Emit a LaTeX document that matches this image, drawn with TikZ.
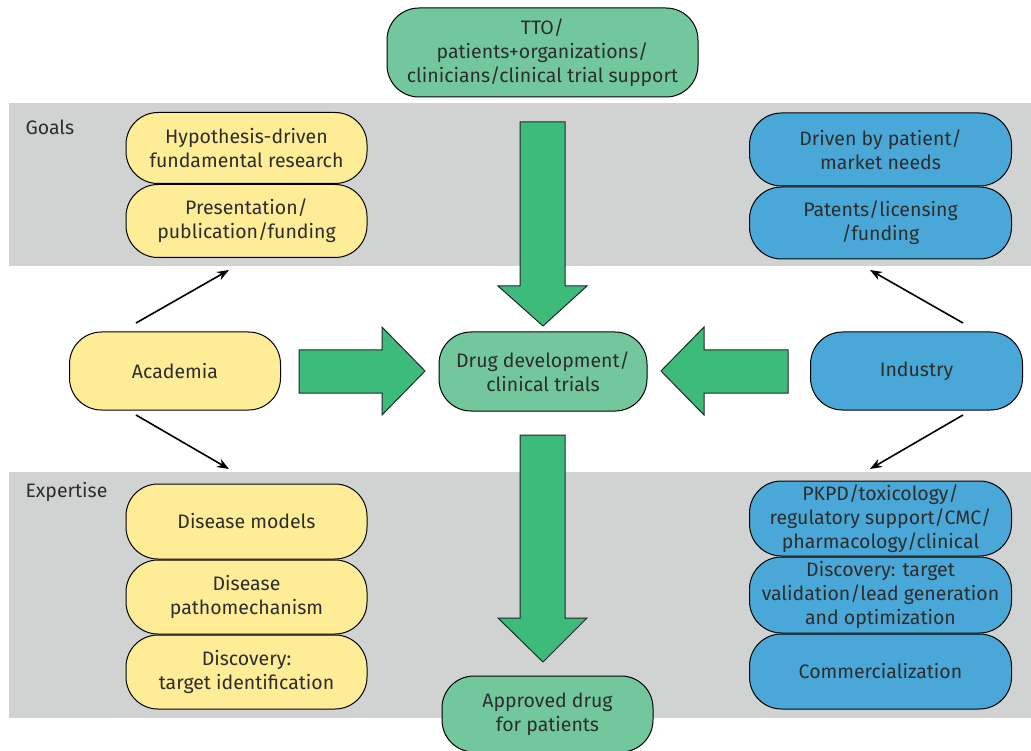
\documentclass[tikz,border=0pt]{standalone}
\usepackage{fontspec}
\setmainfont{Fira Sans}
\usepackage{tikz}
\usetikzlibrary{positioning,arrows.meta}

\definecolor{bandgray}{RGB}{209,211,210}
\definecolor{acadyellow}{RGB}{255,236,150}
\definecolor{indblue}{RGB}{74,168,216}
\definecolor{hubgreen}{RGB}{114,200,156}
\definecolor{arrowgreen}{RGB}{61,187,123}
\definecolor{inkgray}{RGB}{45,45,45}

\tikzset{
	box/.style={draw=black, line width=1pt, rounded corners=32pt, align=center,
		text=inkgray, inner sep=0pt, font=\fontsize{19.5}{24}\selectfont},
	acad/.style={box, fill=acadyellow, minimum width=241pt},
	ind/.style={box, fill=indblue, minimum width=262pt},
	hub/.style={box, fill=hubgreen},
	band/.style={fill=bandgray, draw=none},
	thin/.style={-{Stealth[length=12pt,width=9pt]}, line width=1.6pt},
	fat/.style={fill=arrowgreen, draw=black!85, line width=1pt, line join=miter},
	tag/.style={anchor=west, text=inkgray, font=\fontsize{19.5}{24}\selectfont}
}

\begin{document}
\begin{tikzpicture}[x=1pt,y=-1pt]
	\useasboundingbox (0,0) rectangle (1031,751);
	%
	\fill[band] (9,103) rectangle (1031,266);
	\fill[band] (9,472) rectangle (1031,718);
	\node[tag] (goals) at (22,127) {Goals};
	\node[tag] (expertise) at (22,492) {Expertise};
	%
	% big green arrows
	\draw[fat] (520,122) -- (565,122) -- (565,286) -- (587,286) -- (543,326)
		-- (498,286) -- (520,286) -- cycle;
	\draw[fat] (520,435) -- (565,435) -- (565,618) -- (587,618) -- (543,662)
		-- (498,618) -- (520,618) -- cycle;
	\draw[fat] (299,350) -- (382,350) -- (382,327) -- (425,371) -- (382,415)
		-- (382,393) -- (299,393) -- cycle;
	\draw[fat] (788,350) -- (704,350) -- (704,327) -- (661,371) -- (704,415)
		-- (704,393) -- (788,393) -- cycle;
	%
	% central column
	\node[hub, minimum width=311pt, minimum height=89pt] (tto) at (542.5,52.5)
		{TTO/\\patients+organizations/\\clinicians/clinical trial support};
	\node[hub, minimum width=208pt, minimum height=79pt] (drug) at (543,371.5)
		{Drug development/\\clinical trials};
	\node[hub, minimum width=211pt, minimum height=76pt] (approved) at (547.5,714)
		{Approved drug\\for patients};
	%
	% academia side
	\node[acad, minimum width=211pt, minimum height=78pt] (academia) at (175,371)
		{Academia};
	\node[acad, minimum height=71pt] (hypo) at (246.5,148) {Hypothesis-driven\\fundamental research};
	\node[acad, minimum height=73pt, below=0pt of hypo] (pres) {Presentation/\\publication/funding};
	\node[acad, minimum height=75pt] (models) at (246.5,521.5) {Disease models};
	\node[acad, minimum height=74pt, below=0pt of models] (patho) {Disease\\pathomechanism};
	\node[acad, minimum height=74pt, below=0pt of patho] (target) {Discovery:\\target identification};
	%
	% industry side
	\node[ind, minimum width=212pt, minimum height=78pt] (industry) at (916.5,371)
		{Industry};
	\node[ind, minimum height=73pt] (driven) at (880.5,149.5) {Driven by patient/\\market needs};
	\node[ind, minimum height=72pt, below=0pt of driven] (patents) {Patents/licensing\\/funding};
	\node[ind, minimum height=75pt] (pkpd) at (880.5,518.5)
		{PKPD/toxicology/\\regulatory support/CMC/\\pharmacology/clinical};
	\node[ind, minimum height=76pt, below=0pt of pkpd] (discov) {Discovery: target\\validation/lead generation\\and optimization};
	\node[ind, minimum height=75pt, below=0pt of discov] (commerce) {Commercialization};
	%
	% thin arrows
	\coordinate (acadup) at (136,323);
	\coordinate (acaddown) at (136,415);
	\coordinate (indup) at (963,323);
	\coordinate (inddown) at (963,415);
	\draw[thin] (acadup) -- (229,270);
	\draw[thin] (acaddown) -- (229,469);
	\draw[thin] (indup) -- (870,270);
	\draw[thin] (inddown) -- (870,469);
\end{tikzpicture}
\end{document}
